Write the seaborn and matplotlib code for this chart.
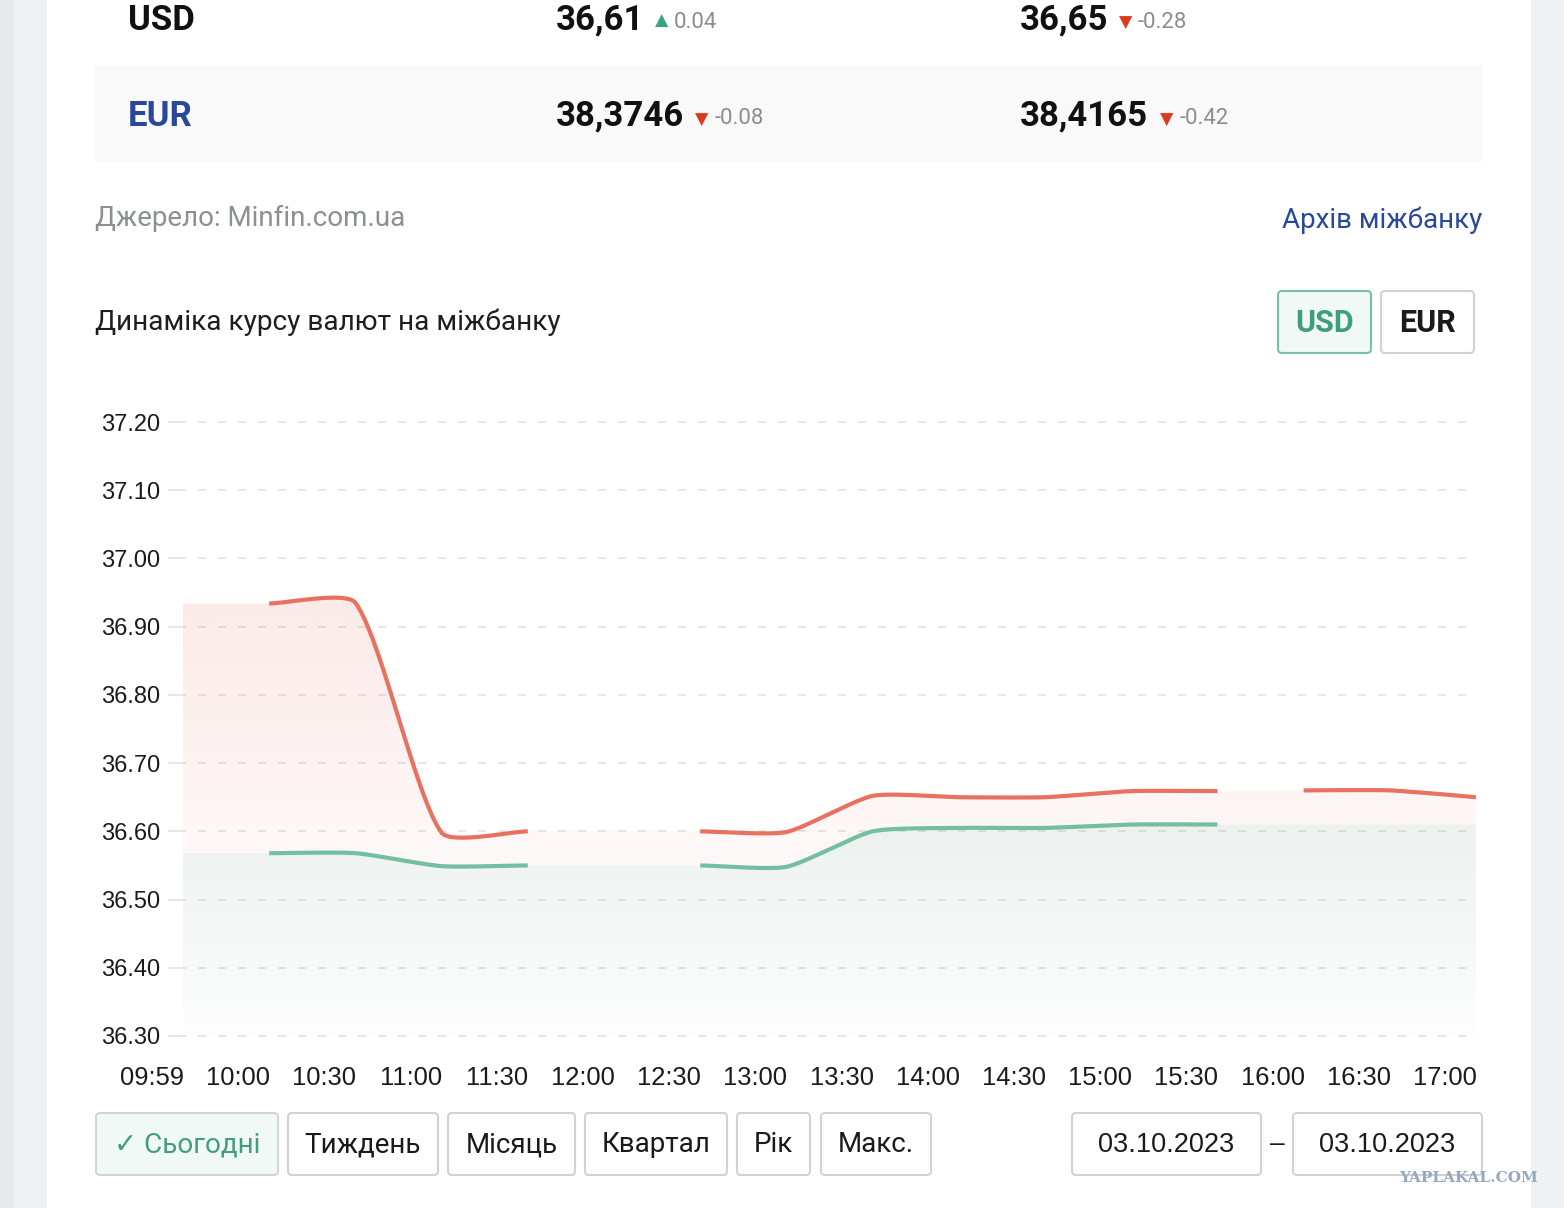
import numpy as np
import matplotlib
matplotlib.use("Agg")
import matplotlib.pyplot as plt
from matplotlib.patches import FancyBboxPatch, Rectangle, Polygon
from matplotlib.transforms import ScaledTranslation
import seaborn as sns

# interbank USD rate, 03.10.2023
times = ["09:59", "10:00", "10:30", "11:00", "11:30", "12:00", "12:30", "13:00",
         "13:30", "14:00", "14:30", "15:00", "15:30", "16:00", "16:30", "17:00"]
sell = [36.934, 36.934, 36.935, 36.598, 36.600, 36.600, 36.600, 36.599,
        36.652, 36.650, 36.650, 36.659, 36.659, 36.660, 36.660, 36.650]
buy = [36.568, 36.568, 36.568, 36.549, 36.550, 36.550, 36.550, 36.548,
       36.600, 36.605, 36.605, 36.610, 36.610, 36.610, 36.610, 36.610]
# segments i -> i+1 where the site draws no line (only the fill)
sell_gaps = [0, 4, 5, 12]
buy_gaps = [0, 4, 5, 12, 13, 14]
y_ticks = [36.30, 36.40, 36.50, 36.60, 36.70, 36.80, 36.90, 37.00, 37.10, 37.20]

# header table
cur_names = ["USD", "EUR"]
buy_now = ["36,61", "38,3746"]
buy_chg = ["0.04", "-0.08"]
sell_now = ["36,65", "38,4165"]
sell_chg = ["-0.28", "-0.42"]

periods = ["✓ Сьогодні", "Тиждень", "Місяць", "Квартал", "Рік", "Макс."]
date_from = "03.10.2023"
date_to = "03.10.2023"

RED = "#e8725f"
GREEN = "#74bea1"
TXT_GREEN = "#3f9f7a"
BLUE = "#28489a"
ROB = ["Roboto", "DejaVu Sans"]
HEL = ["Liberation Sans", "DejaVu Sans"]

sns.set_theme(style="white")
plt.rcParams["lines.scale_dashes"] = False
plt.rcParams["font.family"] = ROB

W, H = 1564, 1208
fig = plt.figure(figsize=(W / 100, H / 100), dpi=100)
fig.patch.set_facecolor("white")

# page background in pixel coordinates
bg = fig.add_axes([0, 0, 1, 1], zorder=0)
bg.set_xlim(0, W)
bg.set_ylim(H, 0)
bg.axis("off")
bg.add_patch(Rectangle((0, 0), 14, H, color="#e8e9ed", lw=0))
bg.add_patch(Rectangle((14, 0), 33, H, color="#eef2f5", lw=0))
bg.add_patch(Rectangle((1531, 0), 33, H, color="#eef2f5", lw=0))
bg.add_patch(Rectangle((95, 66), 1388, 95, color="#f9f9f9", lw=0))

rows_y = [20, 116]
for k in range(2):
    y = rows_y[k]
    bg.text(128, y, cur_names[k], fontsize=25, fontweight="bold",
            color="#111111" if k == 0 else BLUE, va="center")
    bg.text(556, y, buy_now[k], fontsize=25, fontweight="bold", color="#111111", va="center")
    bg.text(1020, y, sell_now[k], fontsize=25, fontweight="bold", color="#111111", va="center")
TRI = dict(fontsize=12.5, va="center", family="DejaVu Sans")
CHG = dict(fontsize=16, color="#8d8d8d", va="center")
bg.text(655, 21, "▲", color="#3aa57c", **TRI)
bg.text(674, 22, buy_chg[0], **CHG)
bg.text(1119, 23, "▼", color="#e03a1e", **TRI)
bg.text(1138, 22, sell_chg[0], **CHG)
bg.text(695, 120, "▼", color="#e03a1e", **TRI)
bg.text(715, 118, buy_chg[1], **CHG)
bg.text(1160, 120, "▼", color="#e03a1e", **TRI)
bg.text(1180, 118, sell_chg[1], **CHG)

bg.text(95, 218, "Джерело: Minfin.com.ua", fontsize=20, color="#8a9094", va="center")
bg.text(1482, 220, "Архів міжбанку", fontsize=20, color=BLUE, va="center", ha="right")
bg.text(95, 322, "Динаміка курсу валют на міжбанку", fontsize=20.2, color="#1e1e1e", va="center")


def button(x0, x1, y0, y1, label, fc="white", ec="#d2d2d2", tc="#1a1a1a",
           weight="normal", size=20, family=ROB):
    bg.add_patch(FancyBboxPatch((x0 + 4, y0 + 4), x1 - x0 - 8, y1 - y0 - 8,
                                boxstyle="round,pad=4", fc=fc, ec=ec, lw=1.5))
    bg.text((x0 + x1) / 2, (y0 + y1) / 2 + 1, label, fontsize=size, color=tc,
            ha="center", va="center", fontweight=weight, family=family)


button(1278, 1371, 291, 353, "USD", fc="#f1f9f6", ec="#74c3a3", tc=TXT_GREEN,
       weight="bold", size=22)
button(1381, 1474, 291, 353, "EUR", weight="bold", size=22)

btn_x = [(96, 278), (288, 438), (448, 575), (585, 727), (737, 810), (821, 931)]
for i, lab in enumerate(periods):
    if i == 0:
        button(*btn_x[i], 1113, 1175, lab, fc="#f1f9f6", ec="#cdd8d3", tc=TXT_GREEN)
    else:
        button(*btn_x[i], 1113, 1175, lab)
button(1072, 1261, 1113, 1175, date_from, family=HEL, size=19.5)
button(1293, 1482, 1113, 1175, date_to, family=HEL, size=19.5)
bg.text(1277, 1144, "–", fontsize=19, color="#1a1a1a", ha="center", va="center", family=HEL)
bg.text(1469, 1178, "YAPLAKAL.COM", fontsize=11, fontweight="bold", color="#94a9bf",
        ha="center", va="center", family="DejaVu Serif")

# ---- chart ----
PX_X, PX_Y = 86.2, 682.2          # pixels per index / per UAH
left_px, right_px, top_px, bot_px = 178, 1476, 418, 1040
ax = fig.add_axes([left_px / W, 1 - bot_px / H, (right_px - left_px) / W,
                   (bot_px - top_px) / H], zorder=2)
ax.set_facecolor("none")


def bezier_segments(vals, tension=0.2, n=40):
    # chart.js style curve (cubic bezier with tension), computed in pixel space
    pts = np.column_stack([np.arange(len(vals)) * PX_X, np.asarray(vals) * PX_Y])
    cp_in = pts.copy()
    cp_out = pts.copy()
    for i in range(1, len(pts) - 1):
        p0, p1, p2 = pts[i - 1], pts[i], pts[i + 1]
        d01 = np.hypot(*(p1 - p0))
        d12 = np.hypot(*(p2 - p1))
        s01 = d01 / (d01 + d12)
        s12 = d12 / (d01 + d12)
        cp_in[i] = p1 - tension * s01 * (p2 - p0)
        cp_out[i] = p1 + tension * s12 * (p2 - p0)
    t = np.linspace(0, 1, n)[:, None]
    segs = []
    for i in range(len(pts) - 1):
        b = ((1 - t) ** 3) * pts[i] + 3 * ((1 - t) ** 2) * t * cp_out[i] \
            + 3 * (1 - t) * t ** 2 * cp_in[i + 1] + t ** 3 * pts[i + 1]
        segs.append(np.column_stack([b[:, 0] / PX_X, b[:, 1] / PX_Y]))
    return segs


sell_segs = bezier_segments(sell)
buy_segs = bezier_segments(buy)
sell_curve = np.vstack(sell_segs)
buy_curve = np.vstack(buy_segs)

ymin = y_ticks[0] - 4 / PX_Y
ymax = y_ticks[-1] + 4 / PX_Y
xmin = -(183 - left_px) / PX_X
xmax = len(times) - 1


def gradient_fill(poly_xy, rgb, a_top, a_bot, y_top, y_bot):
    poly = Polygon(poly_xy, closed=True, fc="none", ec="none")
    ax.add_patch(poly)
    img = np.zeros((256, 1, 4))
    img[..., :3] = matplotlib.colors.to_rgb(rgb)
    img[..., 3] = np.linspace(a_top, a_bot, 256)[:, None]
    im = ax.imshow(img, extent=[0, xmax, y_bot, y_top], origin="upper",
                   aspect="auto", zorder=1, interpolation="bilinear")
    im.set_clip_path(poly)


gradient_fill(np.vstack([sell_curve, buy_curve[::-1]]), "#e7705f", 0.15, 0.04,
              max(sell) + 0.01, min(buy))
gradient_fill(np.vstack([buy_curve, [[xmax, y_ticks[0]], [0, y_ticks[0]]]]),
              "#78a096", 0.14, 0.015, max(buy), y_ticks[0])


def draw_runs(segs, gaps, color):
    run = []
    for i, s in enumerate(segs + [None]):
        if s is None or i in gaps:
            if run:
                xy = np.vstack(run)
                sns.lineplot(x=xy[:, 0], y=xy[:, 1], sort=False, estimator=None,
                             color=color, lw=3.0, ax=ax, zorder=3,
                             solid_capstyle="butt")
            run = []
        else:
            run.append(s)


draw_runs(buy_segs, buy_gaps, GREEN)
draw_runs(sell_segs, sell_gaps, RED)

ax.set_xlim(xmin, xmax)
ax.set_ylim(ymin, ymax)
ax.set_yticks(y_ticks)
ax.set_yticklabels([f"{v:.2f}" for v in y_ticks])
ax.set_xticks(range(len(times)))
ax.set_xticklabels(times)
for sp in ax.spines.values():
    sp.set_visible(False)
ax.yaxis.grid(True, color="#e0e0e0", lw=1.1, dashes=(5.8, 8.6))
ax.xaxis.grid(False)
ax.tick_params(axis="y", length=7.2, width=1.1, color="#e0e0e0", pad=5.8,
               labelsize=17, labelcolor="#1a1a1a", left=True)
ax.tick_params(axis="x", length=0, pad=19, labelsize=18.4, labelcolor="#1a1a1a")
for lab in ax.get_yticklabels() + ax.get_xticklabels():
    lab.set_family(HEL)
shift = ScaledTranslation(-31 / 100, 0, fig.dpi_scale_trans)
for lab in ax.get_xticklabels():
    lab.set_transform(lab.get_transform() + shift)
ax.set_xlabel("")
ax.set_ylabel("")

fig.savefig("out.png", dpi=100)
